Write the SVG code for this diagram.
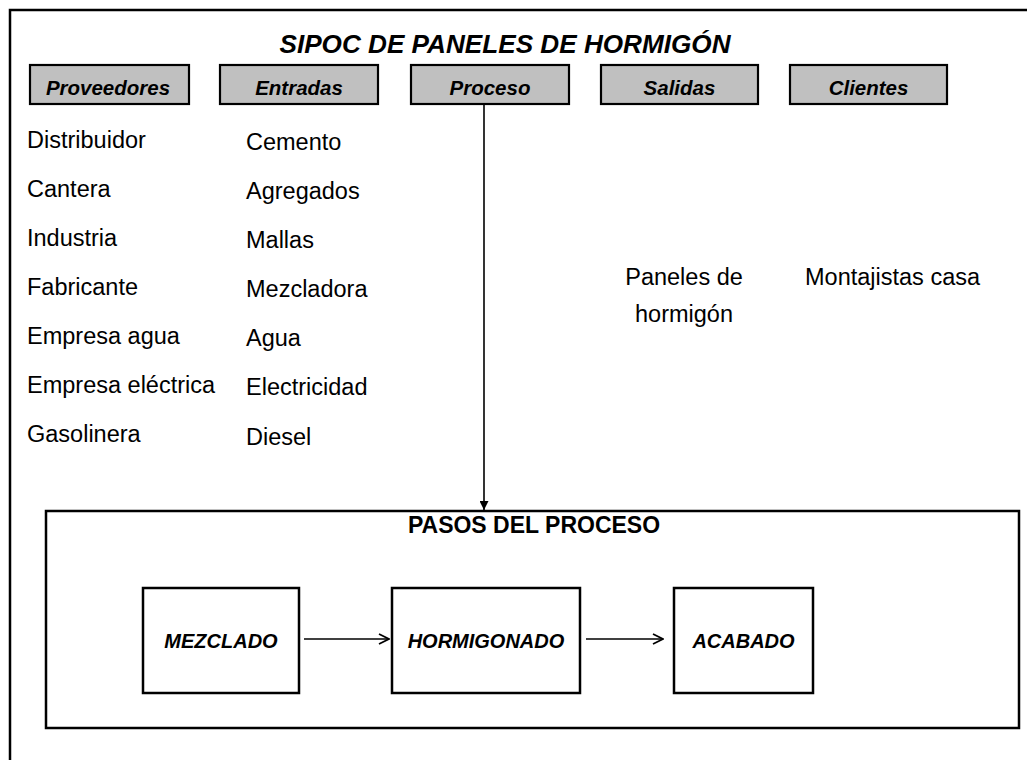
<svg xmlns="http://www.w3.org/2000/svg" width="1027" height="760" viewBox="0 0 1027 760">
<style>
  .frame{fill:none;stroke:#000;stroke-width:2.5}
  .hdr{fill:#c0c0c0;stroke:#000;stroke-width:2.2}
  .step{fill:#fff;stroke:#000;stroke-width:2.5}
  .title{font-family:"Liberation Sans",Arial,sans-serif;font-weight:bold;font-style:italic;font-size:25px;text-anchor:middle}
  .htxt{font-family:"Liberation Sans",Arial,sans-serif;font-weight:bold;font-style:italic;font-size:20.5px;text-anchor:middle}
  .body{font-family:"Liberation Sans",Arial,sans-serif;font-size:23.5px}
  .pasos{font-family:"Liberation Sans",Arial,sans-serif;font-weight:bold;font-size:23px;text-anchor:middle}
  .stxt{font-family:"Liberation Sans",Arial,sans-serif;font-weight:bold;font-style:italic;font-size:20px;text-anchor:middle}
  .conn{fill:none;stroke:#000;stroke-width:1.6}
</style>
<defs>
  <marker id="tri" viewBox="0 0 10 10" refX="10" refY="5" markerWidth="9" markerHeight="9" markerUnits="userSpaceOnUse" orient="auto">
    <path d="M0,0 L10,5 L0,10 z" fill="#000"/>
  </marker>
  <marker id="chev" viewBox="0 0 12 12" refX="11" refY="6" markerWidth="12" markerHeight="12" markerUnits="userSpaceOnUse" orient="auto">
    <path d="M1,1 L11,6 L1,11" fill="none" stroke="#000" stroke-width="1.8"/>
  </marker>
</defs>
<rect x="0" y="0" width="1027" height="760" fill="#fff"/>
<rect class="frame" x="10" y="10" width="1040" height="780"/>
<text id="title" class="title" x="505" y="53" textLength="451" lengthAdjust="spacingAndGlyphs">SIPOC DE PANELES DE HORMIGÓN</text>

<g id="h-proveedores"><rect class="hdr" x="30" y="65" width="159" height="39"/><text class="htxt" x="108" y="95">Proveedores</text></g>
<g id="h-entradas"><rect class="hdr" x="220" y="65" width="158" height="39"/><text class="htxt" x="299" y="95">Entradas</text></g>
<g id="h-proceso"><rect class="hdr" x="411" y="65" width="158" height="39"/><text class="htxt" x="490" y="95">Proceso</text></g>
<g id="h-salidas"><rect class="hdr" x="601" y="65" width="157" height="39"/><text class="htxt" x="679.5" y="95">Salidas</text></g>
<g id="h-clientes"><rect class="hdr" x="790" y="65" width="157" height="39"/><text class="htxt" x="868.5" y="95">Clientes</text></g>

<g id="proveedores" class="body">
  <text x="27" y="148">Distribuidor</text>
  <text x="27" y="197">Cantera</text>
  <text x="27" y="246">Industria</text>
  <text x="27" y="295">Fabricante</text>
  <text x="27" y="344">Empresa agua</text>
  <text x="27" y="393">Empresa eléctrica</text>
  <text x="27" y="442">Gasolinera</text>
</g>
<g id="entradas" class="body">
  <text x="246" y="150">Cemento</text>
  <text x="246" y="199">Agregados</text>
  <text x="246" y="248">Mallas</text>
  <text x="246" y="297">Mezcladora</text>
  <text x="246" y="346">Agua</text>
  <text x="246" y="395">Electricidad</text>
  <text x="246" y="445">Diesel</text>
</g>
<g id="salidas" class="body">
  <text x="684" y="285" text-anchor="middle">Paneles de</text>
  <text x="684" y="322" text-anchor="middle">hormigón</text>
</g>
<g id="clientes" class="body">
  <text x="805" y="285">Montajistas casa</text>
</g>

<g id="pasos">
  <rect class="frame" x="46" y="511" width="973" height="217"/>
  <text class="pasos" x="534" y="533">PASOS DEL PROCESO</text>
</g>
<g id="mezclado"><rect class="step" x="143" y="588" width="156" height="105"/><text class="stxt" x="221" y="648">MEZCLADO</text></g>
<g id="hormigonado"><rect class="step" x="392" y="588" width="188" height="105"/><text class="stxt" x="486" y="648">HORMIGONADO</text></g>
<g id="acabado"><rect class="step" x="674" y="588" width="139" height="105"/><text class="stxt" x="743.5" y="648">ACABADO</text></g>

<g id="connectors">
  <line class="conn" x1="484" y1="104" x2="484" y2="510" marker-end="url(#tri)"/>
  <line class="conn" x1="304" y1="639" x2="389" y2="639" marker-end="url(#chev)"/>
  <line class="conn" x1="586" y1="639" x2="663" y2="639" marker-end="url(#chev)"/>
</g>
</svg>
